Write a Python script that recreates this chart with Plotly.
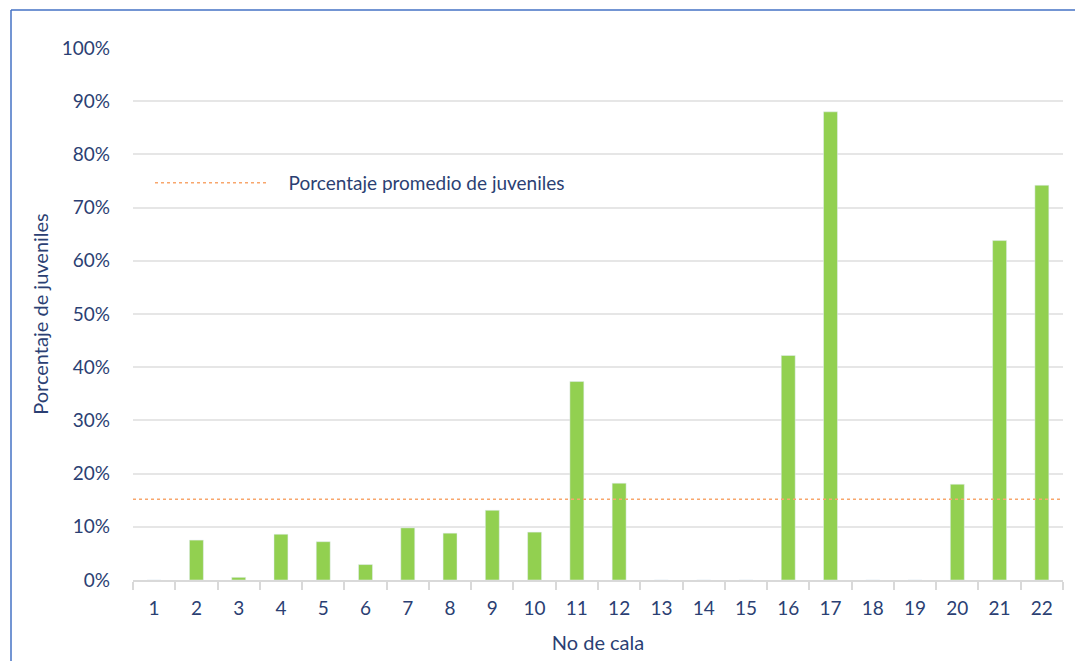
import plotly.graph_objects as go

categories = [str(i) for i in range(1, 23)]
juveniles_pct = [0, 7.5, 0.5, 8.6, 7.2, 2.9, 9.8, 8.8, 13.1, 9.0, 37.3, 18.2,
                 0, 0, 0, 42.2, 88.0, 0, 0, 18.0, 63.8, 74.2]
promedio_pct = 15.2
y_ticks = list(range(0, 101, 10))
y_tick_labels = [f"{v}%" for v in y_ticks]

OFF = 8  # page body margin
W, H = 1083 - OFF, 661 - OFF
# plot area in screen px: x 133..1063, y 48..580
L, T = 133 - OFF, 48 - OFF
R = W - (1063 - OFF)
B = H - (580 - OFF)
pw, ph = W - L - R, H - T - B

def px_x(p):
    return (p - OFF - L) / pw

def px_y(p):
    return (H - B - (p - OFF)) / ph

txt = "#2B3F73"
font = "Lato, 'Noto Sans', sans-serif"

fig = go.Figure()
fig.add_trace(go.Bar(x=categories, y=juveniles_pct, marker_color="#92D050",
                     width=0.33, showlegend=False, hoverinfo="x+y"))

fig.add_shape(type="line", xref="paper", yref="y", x0=0, x1=1,
              y0=promedio_pct, y1=promedio_pct,
              line=dict(color="#F8A66C", width=1.5, dash="dot"),
              showlegend=True,
              name="\u00a0\u00a0\u00a0Porcentaje promedio de juveniles")

# outer frame (left and top edges visible)
frame = dict(color="#4472C4", width=1.5)
fig.add_shape(type="line", xref="paper", yref="paper",
              x0=px_x(11), x1=px_x(1300), y0=px_y(10), y1=px_y(10), line=frame)
fig.add_shape(type="line", xref="paper", yref="paper",
              x0=px_x(11), x1=px_x(11), y0=px_y(10), y1=px_y(800), line=frame)

fig.update_layout(
    width=W, height=H,
    margin=dict(l=L, r=R, t=T, b=B),
    plot_bgcolor="white", paper_bgcolor="white",
    font=dict(family=font, size=19, color=txt),
    legend=dict(x=px_x(150), y=px_y(183), xanchor="left", yanchor="middle",
                bgcolor="rgba(0,0,0,0)", itemwidth=114,
                font=dict(size=19, color=txt)),
    xaxis=dict(type="category", showgrid=False, showline=True, automargin=False,
               linecolor="#D9D9D9", linewidth=1.5,
               ticks="outside", tickson="boundaries", ticklen=8,
               tickcolor="#D9D9D9", tickwidth=1.5,
               ticklabelstandoff=10,
               tickfont=dict(size=19, color=txt),
               title=dict(text="No de cala", font=dict(size=20, color=txt), standoff=18)),
    yaxis=dict(range=[0, 100], tickvals=y_ticks, ticktext=y_tick_labels,
               automargin=False,
               showgrid=True, gridcolor="#E6E6E6", gridwidth=1.5,
               zeroline=False, ticks="", ticklabelstandoff=22,
               tickfont=dict(size=19, color=txt),
               title=dict(text="Porcentaje de juveniles", font=dict(size=20, color=txt), standoff=7)),
)

fig.write_html("out.html")
